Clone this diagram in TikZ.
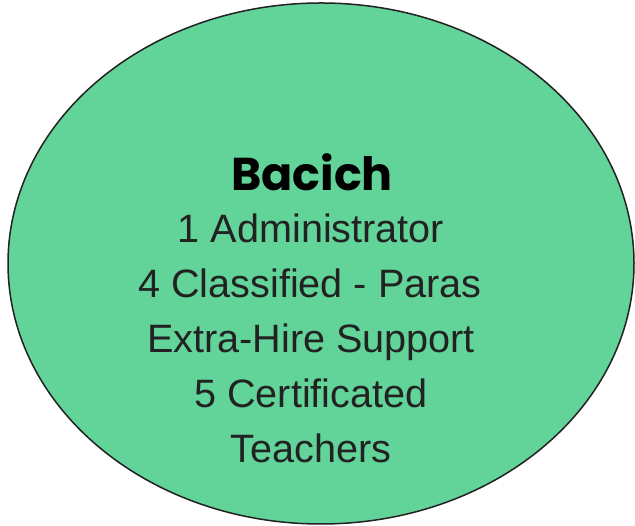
\documentclass[tikz,border=0pt]{standalone}
\usepackage{fontspec}
\usetikzlibrary{shapes.geometric}
\setmainfont{Liberation Sans}
\newfontfamily\titlefont{Poppins}
\definecolor{fillgreen}{HTML}{62D399}
\definecolor{edgegray}{HTML}{222222}
\definecolor{textgray}{HTML}{222222}
\begin{document}
\begin{tikzpicture}[x=1pt,y=1pt,
  bodytext/.style={anchor=base,inner sep=0pt,text=textgray,font=\fontsize{39.6}{39.6}\selectfont},
  titletext/.style={anchor=base,inner sep=0pt,text=black,font=\titlefont\bfseries\fontsize{46}{46}\selectfont}]
\useasboundingbox (0,0) rectangle (635,526);
\node[ellipse,draw=edgegray,line width=1.5pt,fill=fillgreen,minimum width=626pt,minimum height=521pt,inner sep=0pt] (oval) at (321,262.5) {};
\node[titletext] (title) at (312,335) {Bacich};
\node[bodytext] (l1) at (311,283) {1 Administrator};
\node[bodytext] (l2) at (310,228) {4 Classified - Paras};
\node[bodytext] (l3) at (311,173) {Extra-Hire Support};
\node[bodytext] (l4) at (311,118) {5 Certificated};
\node[bodytext] (l5) at (311,63) {Teachers};
\end{tikzpicture}
\end{document}
